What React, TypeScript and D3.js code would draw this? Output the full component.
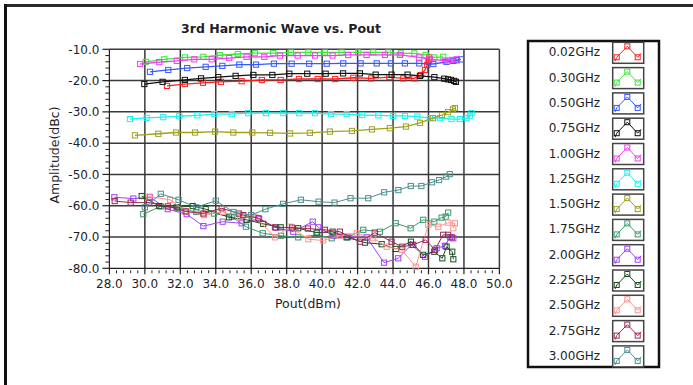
import React from "react";
import * as d3 from "d3";

// Pout (dBm) / amplitude (dBc) pairs for each test frequency
const f002: [number, number][] = [[31.25,-21.7],[32.26,-21.1],[33.28,-20.7],[34.29,-20.4],[35.46,-20.2],[36.6,-19.8],[37.66,-19.8],[38.69,-19.5],[39.75,-19.5],[40.74,-19.5],[41.76,-19.1],[42.77,-19.3],[43.79,-18.9],[44.58,-19.3],[45.2,-19.3],[45.58,-18.2],[45.8,-16.6],[45.93,-15.0],[46.0,-14.0],[46.03,-13.4],[46.04,-12.6]];
const f030: [number, number][] = [[30.05,-14.0],[31.1,-13.2],[32.26,-12.6],[33.3,-12.4],[34.24,-11.9],[35.24,-11.5],[36.21,-11.2],[37.24,-11.2],[38.24,-11.0],[39.22,-11.0],[40.16,-11.0],[41.1,-11.0],[42.04,-11.0],[42.88,-11.0],[43.73,-11.0],[44.45,-11.3],[45.2,-11.3],[45.84,-11.8],[46.33,-12.6],[46.83,-12.4]];
const f050: [number, number][] = [[30.29,-17.2],[31.32,-16.6],[32.39,-16.0],[33.43,-15.6],[34.37,-15.3],[35.33,-14.9],[36.27,-14.9],[37.28,-14.6],[38.28,-14.6],[39.27,-14.6],[40.26,-14.6],[41.19,-14.5],[42.17,-14.5],[43.08,-14.5],[43.88,-14.5],[44.67,-14.5],[45.48,-14.5],[46.27,-14.7],[47.02,-14.0],[47.4,-13.7],[47.6,-13.5],[47.83,-13.2]];
const f075: [number, number][] = [[29.97,-21.1],[31.0,-20.4],[32.26,-19.8],[33.17,-19.3],[34.14,-18.9],[35.12,-18.5],[36.12,-18.2],[37.19,-18.2],[38.15,-17.8],[39.16,-17.8],[40.2,-17.8],[41.18,-17.7],[42.13,-17.7],[43.02,-18.1],[43.92,-18.1],[44.82,-18.1],[45.52,-18.5],[46.33,-18.9],[46.89,-19.4],[47.1,-19.6],[47.27,-19.8],[47.45,-20.1],[47.55,-20.4]];
const f100: [number, number][] = [[29.73,-14.7],[30.81,-14.1],[31.8,-13.7],[32.79,-13.2],[33.77,-13.2],[34.76,-12.8],[35.74,-12.4],[36.74,-12.4],[37.62,-12.0],[38.62,-12.0],[39.6,-12.0],[40.59,-12.0],[41.47,-11.8],[42.51,-11.8],[43.54,-11.8],[44.39,-11.8],[45.48,-12.6],[46.08,-13.2],[46.93,-13.6],[47.3,-13.4],[47.59,-13.2]];
const f125: [number, number][] = [[29.16,-32.3],[30.1,-31.9],[31.04,-31.7],[31.94,-31.4],[32.96,-31.1],[33.92,-30.7],[34.9,-30.7],[35.83,-30.4],[36.83,-30.4],[37.81,-30.4],[38.71,-30.4],[39.6,-30.4],[40.5,-30.7],[41.38,-30.7],[42.26,-31.0],[43.17,-31.1],[44.01,-31.3],[44.67,-31.3],[45.37,-31.5],[46.08,-32.0],[46.65,-32.0],[47.3,-32.3],[47.77,-32.3],[48.15,-32.0],[48.34,-31.2],[48.43,-30.4]];
const f150: [number, number][] = [[29.44,-37.5],[30.76,-37.0],[31.76,-36.6],[32.83,-36.6],[33.96,-36.3],[34.99,-36.6],[36.06,-36.6],[37.06,-36.7],[38.19,-36.9],[39.31,-36.7],[40.44,-36.3],[41.68,-36.1],[42.81,-35.6],[43.82,-35.2],[44.73,-34.7],[45.52,-33.5],[46.25,-32.0],[46.76,-31.0],[47.1,-30.1],[47.38,-29.2],[47.49,-28.8]];
const f175: [number, number][] = [[29.91,-62.7],[30.9,-60.2],[31.9,-60.8],[32.9,-62.0],[33.9,-62.5],[34.9,-63.5],[35.7,-66.7],[36.65,-68.8],[37.68,-69.6],[38.65,-70.1],[39.73,-69.3],[40.54,-70.4],[41.44,-70.1],[42.32,-67.7],[43.26,-68.3],[44.15,-65.6],[44.99,-67.2],[45.7,-64.5],[46.33,-65.1],[46.74,-63.8],[46.97,-63.5],[47.11,-62.2]];
const f200: [number, number][] = [[28.28,-57.3],[29.35,-57.7],[30.29,-57.3],[31.29,-61.1],[32.36,-62.7],[33.3,-66.5],[34.39,-65.1],[35.46,-65.6],[36.45,-64.2],[37.4,-67.0],[38.37,-68.3],[39.47,-65.1],[39.78,-66.9],[40.63,-69.6],[41.47,-69.9],[42.51,-70.1],[43.49,-78.2],[44.29,-76.8],[45.05,-72.5],[45.8,-76.3],[46.46,-73.6],[46.93,-72.8],[47.21,-70.1],[47.4,-70.4]];
const f225: [number, number][] = [[29.82,-56.9],[30.81,-60.1],[31.8,-60.5],[32.7,-60.1],[33.43,-61.1],[34.75,-63.7],[35.74,-64.5],[36.68,-65.8],[37.66,-66.9],[38.65,-67.2],[39.69,-68.6],[40.59,-68.3],[41.38,-70.1],[42.42,-71.8],[43.36,-72.3],[44.16,-73.8],[45.01,-71.5],[45.7,-75.7],[46.33,-74.7],[46.78,-76.8],[47.02,-73.1],[47.34,-74.7],[47.4,-77.1]];
const f250: [number, number][] = [[30.25,-57.1],[31.42,-58.1],[32.36,-61.9],[33.34,-63.0],[34.4,-62.0],[35.37,-63.7],[36.21,-63.6],[37.34,-70.1],[38.19,-66.7],[39.22,-70.7],[40.06,-71.1],[41.0,-69.6],[41.95,-68.8],[42.88,-70.4],[43.64,-73.1],[44.49,-74.1],[45.28,-79.5],[45.99,-66.1],[46.55,-66.7],[47.11,-65.4],[47.49,-65.6],[47.4,-67.2]];
const f275: [number, number][] = [[28.3,-58.5],[29.2,-59.0],[30.25,-59.0],[31.3,-60.2],[32.3,-61.8],[33.3,-62.5],[34.33,-60.8],[35.3,-62.5],[35.55,-63.0],[36.4,-64.0],[37.34,-66.9],[38.3,-67.0],[39.2,-67.3],[40.16,-67.7],[41.0,-68.3],[42.13,-71.5],[42.97,-68.6],[43.92,-71.5],[44.52,-73.1],[45.14,-72.5],[45.84,-70.9],[46.36,-74.1],[46.83,-69.3],[47.11,-69.3],[47.31,-70.1]];
const f300: [number, number][] = [[30.0,-60.5],[30.9,-56.2],[31.9,-58.1],[32.9,-60.5],[34.0,-58.4],[35.0,-62.0],[36.0,-63.0],[36.8,-61.1],[37.8,-59.4],[38.8,-58.1],[39.8,-58.7],[40.7,-59.0],[41.6,-57.6],[42.6,-57.6],[43.5,-55.7],[44.3,-55.0],[45.0,-53.7],[45.6,-53.7],[46.2,-52.5],[46.6,-51.8],[47.0,-50.7],[47.2,-49.9]];

const seriesNames = ["0.02GHz","0.30GHz","0.50GHz","0.75GHz","1.00GHz","1.25GHz","1.50GHz","1.75GHz","2.00GHz","2.25GHz","2.50GHz","2.75GHz","3.00GHz"];
const seriesData = [f002, f030, f050, f075, f100, f125, f150, f175, f200, f225, f250, f275, f300];
const seriesColors = ["#ff1e1e","#3ee23e","#3558ff","#111111","#f23cf2","#1ef0f0","#a0a01e","#3a9a6c","#a040ff","#1a4f1a","#ff9090","#9a2a55","#4a9090"];

const xTicks = [28, 30, 32, 34, 36, 38, 40, 42, 44, 46, 48, 50];
const yTicks = [-10, -20, -30, -40, -50, -60, -70, -80];

const titleText = "3rd Harmonic Wave vs. Pout";
const xTitle = "Pout(dBm)";
const yTitle = "Amplitude(dBc)";

const FONT = "'DejaVu Sans', Verdana, sans-serif";
const TEXT = "#1e1e28";

export default function App() {
  const W = 693, H = 385;
  const x = d3.scaleLinear().domain([28, 50]).range([109.4, 499.4]);
  const y = d3.scaleLinear().domain([-80, -10]).range([268.3, 49.3]);
  const line = d3.line<[number, number]>().x(d => x(d[0])).y(d => y(d[1]));

  const xMinor: number[] = [];
  for (let i = 0; i < xTicks.length - 1; i++) for (let k = 1; k < 5; k++) xMinor.push(xTicks[i] + k * 0.4);
  const yMinor: number[] = [];
  for (let v = -80; v < -10; v += 2) if (v % 10 !== 0) yMinor.push(v);

  const [x0, x1] = x.range();
  const [y0, y1] = y.range();

  const legX = 528, legY = 41, legW = 131, legH = 326;
  const rowH = 25.3;

  return (
    <svg width={W} height={H} style={{ position: "fixed", left: 0, top: 0, background: "#fff" }} fontFamily={FONT}>
      <rect x={0} y={0} width={W} height={H} fill="#fff" />
      {/* frame edges */}
      <line x1={4} y1={5.5} x2={W} y2={5.5} stroke="#2a2a2a" strokeWidth={3} />
      <line x1={5.5} y1={4} x2={5.5} y2={H} stroke="#111" strokeWidth={3} />

      <text x={281} y={33} textAnchor="middle" fontSize={12.5} fontWeight="bold" fill={TEXT}>{titleText}</text>

      {/* grid */}
      {xTicks.slice(1).map(t => (
        <line key={"gx" + t} x1={x(t)} x2={x(t)} y1={y1} y2={y0} stroke="#3a3a3a" strokeWidth={1.5} />
      ))}
      {yTicks.slice(0, -1).map(t => (
        <line key={"gy" + t} x1={x0} x2={x1} y1={y(t)} y2={y(t)} stroke="#3a3a3a" strokeWidth={1.5} />
      ))}

      {/* axes */}
      <line x1={x0} x2={x0} y1={y1} y2={y0 + 0.5} stroke="#222" strokeWidth={1.2} />
      <line x1={x0} x2={x1} y1={y0} y2={y0} stroke="#222" strokeWidth={1.2} />
      {yTicks.map(t => (
        <g key={"yt" + t}>
          <line x1={x0 - 7} x2={x0} y1={y(t)} y2={y(t)} stroke="#222" strokeWidth={1.2} />
          <text x={x0 - 10} y={y(t) + 4.3} textAnchor="end" fontSize={12} fill={TEXT}>{t.toFixed(1)}</text>
        </g>
      ))}
      {yMinor.map(t => (
        <line key={"ym" + t} x1={x0 - 4} x2={x0} y1={y(t)} y2={y(t)} stroke="#222" strokeWidth={1} />
      ))}
      {xTicks.map(t => (
        <g key={"xt" + t}>
          <line x1={x(t)} x2={x(t)} y1={y0} y2={y0 + 6} stroke="#222" strokeWidth={1.2} />
          <text x={x(t)} y={y0 + 20} textAnchor="middle" fontSize={12} fill={TEXT}>{t.toFixed(1)}</text>
        </g>
      ))}
      {xMinor.map(t => (
        <line key={"xm" + t} x1={x(t)} x2={x(t)} y1={y0 + 2} y2={y0 + 5} stroke="#222" strokeWidth={1} />
      ))}

      <text x={308} y={308} textAnchor="middle" fontSize={12.5} fill={TEXT}>{xTitle}</text>
      <text transform={`translate(59,155) rotate(-90)`} textAnchor="middle" fontSize={12.5} fill={TEXT}>{yTitle}</text>

      {/* series */}
      {seriesData.map((data, i) => (
        <g key={"s" + i}>
          <path d={line(data) || ""} fill="none" stroke={seriesColors[i]} strokeWidth={i < 7 ? 1.3 : 1} />
          {data.map((d, j) => (
            <rect key={j} x={x(d[0]) - 2.6} y={y(d[1]) - 2.6} width={5.2} height={5.2} fill="none" stroke={seriesColors[i]} strokeWidth={1} />
          ))}
        </g>
      ))}

      {/* legend */}
      <rect x={legX} y={legY} width={legW} height={legH} fill="#fff" stroke="#111" strokeWidth={2.5} />
      {seriesNames.map((name, i) => {
        const top = legY + 1.3 + i * rowH;
        const bx = 612.7;
        const pts: [number, number][] = [[bx + 2.5, top + 19], [bx + 4, top + 15], [bx + 14.6, top + 4], [bx + 25, top + 15], [bx + 28.5, top + 11]];
        const marks: [number, number][] = [[bx + 4, top + 15], [bx + 14.6, top + 4], [bx + 25, top + 15]];
        return (
          <g key={"lg" + i}>
            <text x={600} y={top + 14} textAnchor="end" fontSize={12} fill={TEXT}>{name}</text>
            <rect x={bx} y={top} width={31} height={21} fill="#fff" stroke="#444" strokeWidth={1.5} />
            <path d={d3.line()(pts) || ""} fill="none" stroke={seriesColors[i]} strokeWidth={1} />
            {marks.map((m, k) => (
              <rect key={k} x={m[0] - 2.5} y={m[1] - 2.5} width={5} height={5} fill="none" stroke={seriesColors[i]} strokeWidth={1} />
            ))}
          </g>
        );
      })}
    </svg>
  );
}
